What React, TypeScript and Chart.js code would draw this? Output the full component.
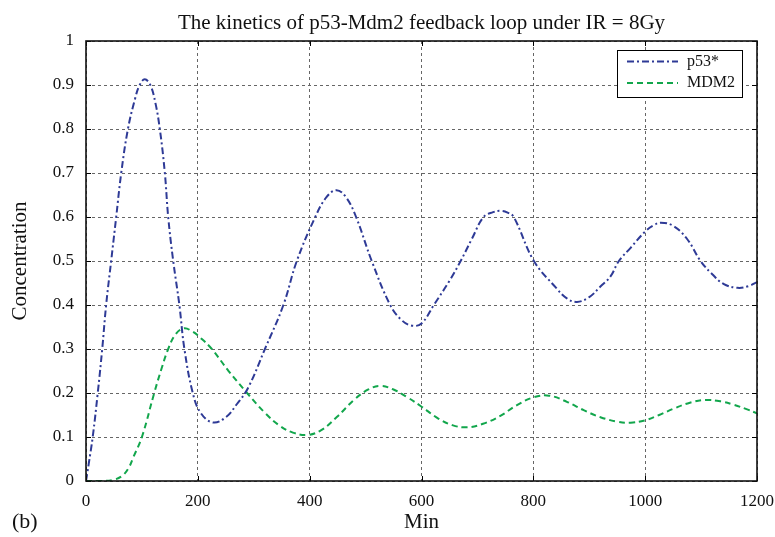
import React, { useEffect, useRef } from "react";
import { Chart, registerables } from "chart.js";

Chart.register(...registerables);

const titleText = "The kinetics of p53-Mdm2 feedback loop under IR = 8Gy";
const xTicks = [0, 200, 400, 600, 800, 1000, 1200];
const yTicks = [0, 0.1, 0.2, 0.3, 0.4, 0.5, 0.6, 0.7, 0.8, 0.9, 1];

const p53Time = [0, 5, 12, 21, 29, 36, 45, 54, 63, 75, 88, 96, 105, 115, 124, 132, 141, 147, 156, 167, 176, 191, 205, 227, 250, 270, 290, 320, 353, 377, 410, 430, 448, 465, 483, 511, 544, 565, 583, 600, 622, 650, 670, 690, 711, 728, 741, 754, 765, 801, 840, 860, 878, 900, 920, 938, 953, 974, 1000, 1015, 1028, 1050, 1075, 1099, 1120, 1140, 1165, 1185, 1200];
const p53Values = [0, 0.04, 0.1, 0.2, 0.3, 0.4, 0.5, 0.6, 0.7, 0.8, 0.87, 0.9, 0.913, 0.9, 0.86, 0.8, 0.7, 0.6, 0.5, 0.4, 0.3, 0.2, 0.155, 0.133, 0.145, 0.175, 0.212, 0.3, 0.4, 0.5, 0.6, 0.645, 0.661, 0.645, 0.6, 0.5, 0.4, 0.365, 0.353, 0.358, 0.4, 0.455, 0.5, 0.55, 0.6, 0.611, 0.614, 0.61, 0.6, 0.5, 0.44, 0.415, 0.407, 0.418, 0.442, 0.465, 0.5, 0.53, 0.567, 0.581, 0.587, 0.58, 0.55, 0.5, 0.47, 0.448, 0.439, 0.443, 0.452];

const mdm2Time = [0, 25, 50, 65, 76, 85, 100, 122, 135, 147, 160, 175, 190, 205, 225, 255, 288, 320, 347, 370, 395, 420, 449, 480, 505, 526, 550, 575, 599, 630, 655, 681, 710, 741, 770, 800, 828, 860, 890, 920, 950, 974, 1000, 1025, 1052, 1080, 1108, 1135, 1159, 1180, 1200];
const mdm2Values = [0, 0, 0.003, 0.012, 0.029, 0.055, 0.1, 0.2, 0.255, 0.3, 0.333, 0.347, 0.34, 0.325, 0.3, 0.25, 0.2, 0.155, 0.125, 0.11, 0.1045, 0.115, 0.146, 0.185, 0.208, 0.216, 0.208, 0.19, 0.17, 0.142, 0.127, 0.122, 0.13, 0.148, 0.172, 0.19, 0.194, 0.18, 0.161, 0.145, 0.135, 0.1325, 0.138, 0.15, 0.165, 0.178, 0.184, 0.181, 0.173, 0.164, 0.154];

const seriesNames = ["p53*", "MDM2"];
const seriesColors = ["#2e3a96", "#12a64c"];
const seriesDashes = [[7, 3, 2, 3], [6, 4]];

const SERIF = "'Liberation Serif', 'DejaVu Serif', serif";

export default function App() {
  const ref = useRef<HTMLCanvasElement | null>(null);

  useEffect(() => {
    document.body.style.margin = "0";
    const canvas = ref.current;
    if (!canvas) return;

    const decor = {
      id: "decor",
      afterDatasetsDraw(chart: any) {
        const ctx = chart.ctx;
        const a = chart.chartArea;
        const xs = chart.scales.x;
        const ys = chart.scales.y;
        ctx.save();
        ctx.strokeStyle = "#000";
        ctx.lineWidth = 1;
        ctx.setLineDash([]);
        const tl = 5;
        yTicks.forEach((v) => {
          const py = Math.round(ys.getPixelForValue(v)) + 0.5;
          ctx.beginPath();
          ctx.moveTo(a.left, py);
          ctx.lineTo(a.left + tl, py);
          ctx.moveTo(a.right, py);
          ctx.lineTo(a.right - tl, py);
          ctx.stroke();
        });
        xTicks.forEach((v) => {
          const px = Math.round(xs.getPixelForValue(v)) + 0.5;
          ctx.beginPath();
          ctx.moveTo(px, a.bottom);
          ctx.lineTo(px, a.bottom - tl);
          ctx.moveTo(px, a.top);
          ctx.lineTo(px, a.top + tl);
          ctx.stroke();
        });
        ctx.lineWidth = 1.6;
        ctx.strokeStyle = "#111";
        ctx.strokeRect(a.left, a.top, a.right - a.left, a.bottom - a.top);

        const lx = 617, ly = 50, lw = 125, lh = 47;
        ctx.fillStyle = "#fff";
        ctx.fillRect(lx, ly, lw, lh);
        ctx.lineWidth = 1;
        ctx.strokeStyle = "#000";
        ctx.strokeRect(lx + 0.5, ly + 0.5, lw, lh);
        const rows = [61.5, 83];
        seriesNames.forEach((name, i) => {
          ctx.strokeStyle = seriesColors[i];
          ctx.lineWidth = 2;
          ctx.setLineDash(seriesDashes[i]);
          ctx.beginPath();
          ctx.moveTo(627, rows[i]);
          ctx.lineTo(678, rows[i]);
          ctx.stroke();
          ctx.setLineDash([]);
          ctx.fillStyle = "#111";
          ctx.font = "16px " + SERIF;
          ctx.textAlign = "left";
          ctx.textBaseline = "middle";
          ctx.fillText(name, 687, rows[i]);
        });

        ctx.fillStyle = "#111";
        ctx.font = "21px " + SERIF;
        ctx.textAlign = "center";
        ctx.textBaseline = "middle";
        ctx.fillText(titleText, (a.left + a.right) / 2, 23);
        ctx.font = "22px " + SERIF;
        ctx.textAlign = "left";
        ctx.fillText("(b)", 12, 522);
        ctx.restore();
      },
    };

    const chart = new Chart(canvas, {
      type: "line",
      data: {
        datasets: [
          {
            label: seriesNames[0],
            data: p53Time.map((t, i) => ({ x: t, y: p53Values[i] })),
            borderColor: seriesColors[0],
            borderWidth: 2,
            borderDash: seriesDashes[0],
            pointRadius: 0,
            fill: false,
            tension: 0.4,
          },
          {
            label: seriesNames[1],
            data: mdm2Time.map((t, i) => ({ x: t, y: mdm2Values[i] })),
            borderColor: seriesColors[1],
            borderWidth: 2,
            borderDash: seriesDashes[1],
            pointRadius: 0,
            fill: false,
            tension: 0.4,
          },
        ],
      },
      options: {
        animation: false,
        responsive: false,
        maintainAspectRatio: false,
        layout: { padding: { top: 41, right: 18, left: 0, bottom: 0 } },
        plugins: {
          legend: { display: false },
          tooltip: { enabled: false },
          title: { display: false },
        },
        scales: {
          x: {
            type: "linear",
            min: 0,
            max: 1200,
            afterBuildTicks: (s: any) => {
              s.ticks = xTicks.map((v) => ({ value: v }));
            },
            afterFit: (s: any) => {
              s.height = 56;
              s.paddingLeft = 0;
              s.paddingRight = 0;
            },
            grid: { color: "#666", lineWidth: 1, drawTicks: false },
            border: { display: false, dash: [3, 3] },
            ticks: {
              padding: 10,
              color: "#111",
              font: { family: SERIF, size: 17 },
              callback: (v: any) => String(v),
              maxRotation: 0,
            },
            title: {
              display: true,
              text: "Min",
              color: "#111",
              font: { family: SERIF, size: 21 },
              padding: { top: 0, bottom: 2 },
            },
          },
          y: {
            type: "linear",
            min: 0,
            max: 1,
            afterBuildTicks: (s: any) => {
              s.ticks = yTicks.map((v) => ({ value: v }));
            },
            afterFit: (s: any) => {
              s.width = 86;
              s.paddingTop = 0;
              s.paddingBottom = 0;
            },
            grid: { color: "#666", lineWidth: 1, drawTicks: false },
            border: { display: false, dash: [3, 3] },
            ticks: {
              padding: 12,
              color: "#111",
              font: { family: SERIF, size: 17 },
              callback: (v: any) => String(v),
            },
            title: {
              display: true,
              text: "Concentration",
              color: "#111",
              font: { family: SERIF, size: 21 },
              padding: { top: 8, bottom: 0 },
            },
          },
        },
      },
      plugins: [decor],
    });
    return () => chart.destroy();
  }, []);

  return (
    <div style={{ width: 775, height: 537, background: "#fff" }}>
      <canvas ref={ref} width={775} height={537} style={{ display: "block" }} />
    </div>
  );
}
